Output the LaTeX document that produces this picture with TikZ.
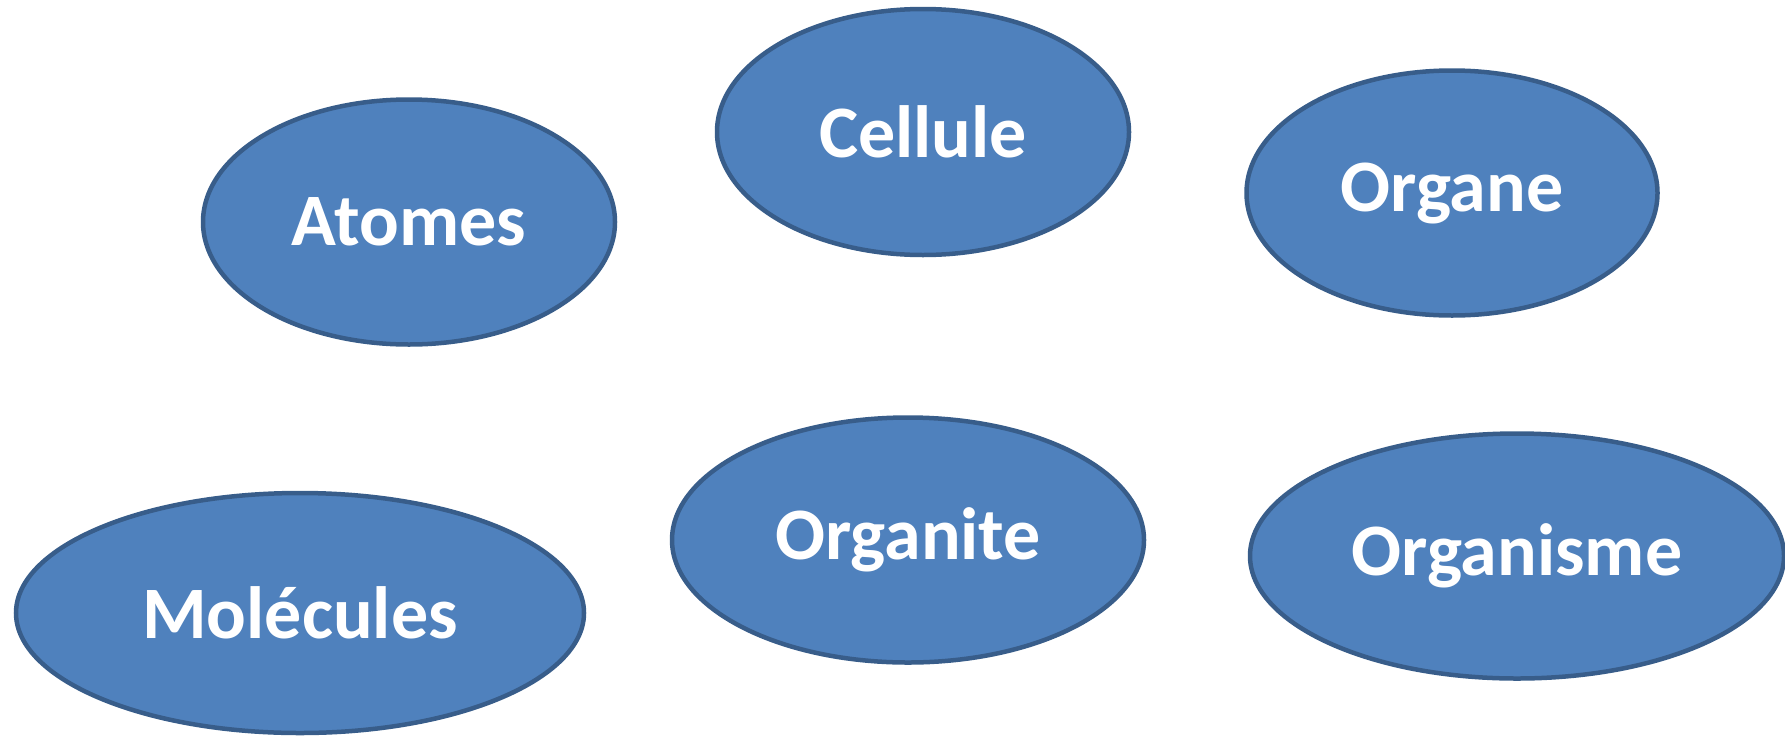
\documentclass[tikz,border=0pt]{standalone}
\usepackage{fontspec}
\setmainfont{Carlito}
\usetikzlibrary{shapes.geometric}
\definecolor{cellfill}{HTML}{4F81BD}
\definecolor{celldraw}{HTML}{385D8A}
\tikzset{
  level/.style={ellipse, fill=cellfill, draw=celldraw, line width=4.5pt,
    inner sep=0pt, text=white,
    font=\bfseries\fontsize{74}{89}\selectfont}
}
\begin{document}
\begin{tikzpicture}[x=1pt,y=-1pt]
\useasboundingbox (0,0) rectangle (1785,737);
\node[level, minimum width=412pt, minimum height=245pt] (atomes) at (409,222) {Atomes};
\node[level, minimum width=412pt, minimum height=246pt] (cellule) at (923,132) {Cellule};
\node[level, minimum width=411pt, minimum height=245pt] (organe) at (1452,193) {Organe};
\node[level, minimum width=568pt, minimum height=240pt] (molecules) at (300,613) {Molécules};
\node[level, minimum width=472pt, minimum height=245pt] (organite) at (908,540) {Organite};
\node[level, minimum width=534pt, minimum height=245pt] (organisme) at (1517,556) {Organisme};
\end{tikzpicture}
\end{document}
